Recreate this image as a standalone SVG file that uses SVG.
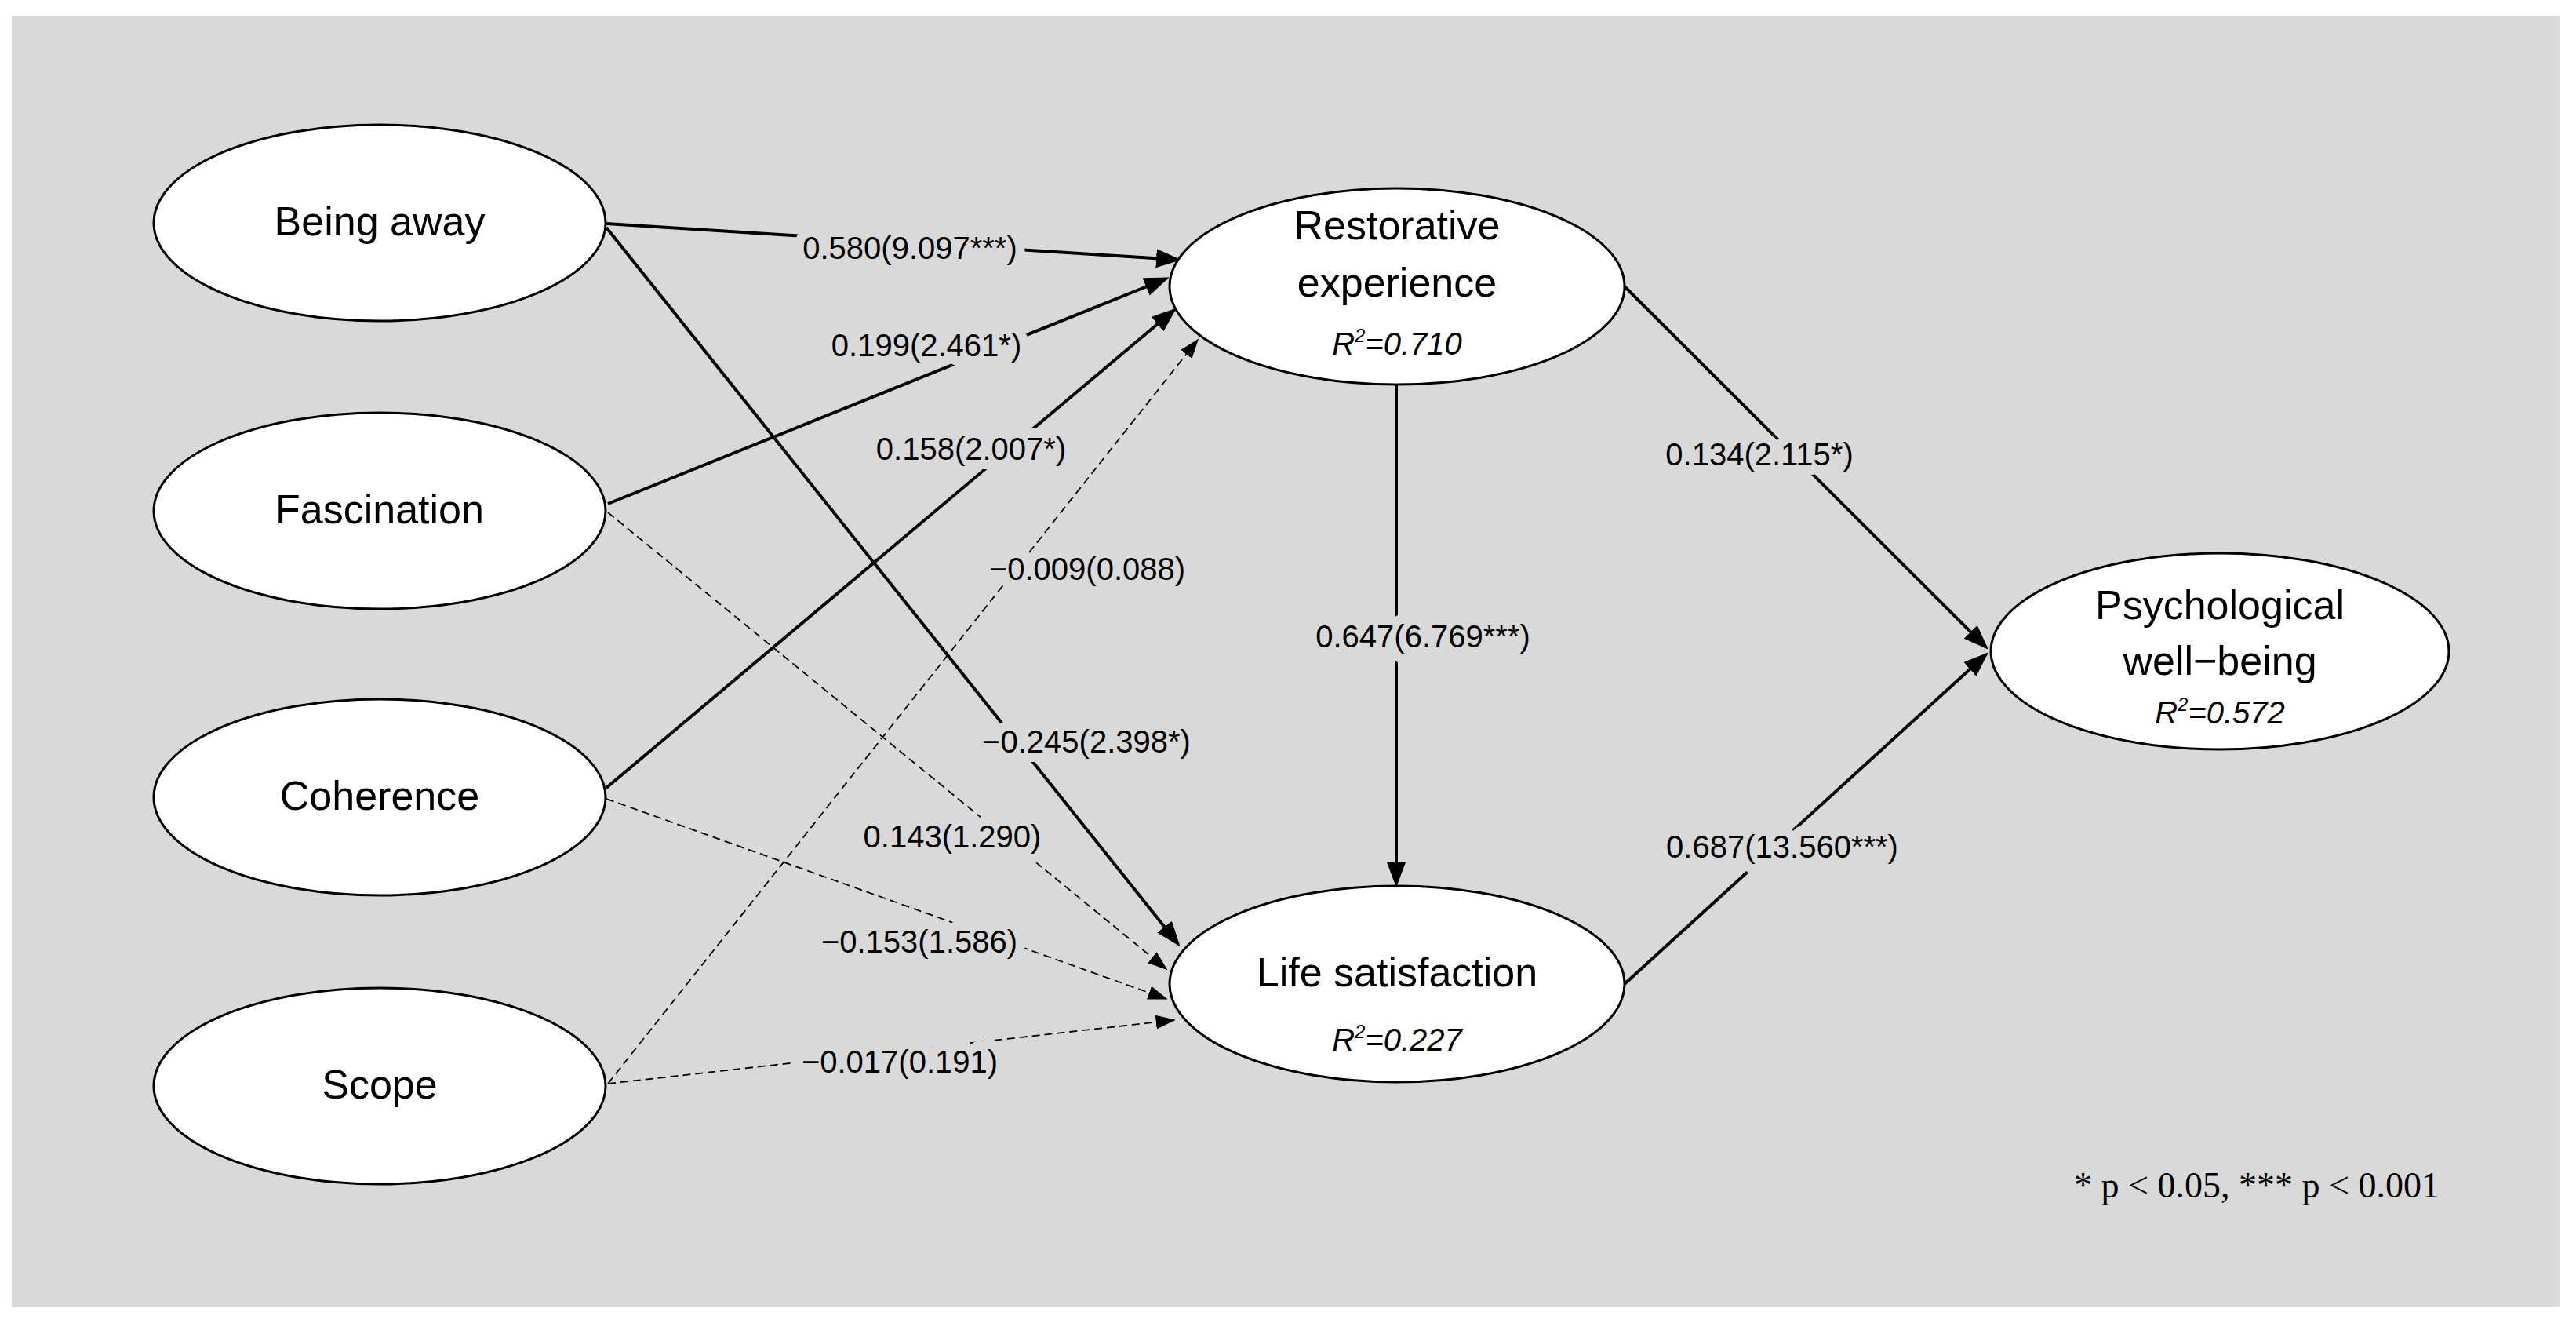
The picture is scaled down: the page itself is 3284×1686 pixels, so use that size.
<svg xmlns="http://www.w3.org/2000/svg" width="3284" height="1686" viewBox="0 0 3284 1686">
<style>
.node{fill:#fff;stroke:#000;stroke-width:3}
.nt{font-family:"Liberation Sans",Arial,sans-serif;font-size:52px;text-anchor:middle;fill:#000}
.r2{font-family:"Liberation Sans",Arial,sans-serif;font-size:40px;font-style:italic;text-anchor:middle;fill:#000}
.lb{font-family:"Liberation Sans",Arial,sans-serif;font-size:40px;text-anchor:middle;fill:#000;paint-order:stroke;stroke:#d9d9d9;stroke-width:24px;stroke-linejoin:round}
.s{stroke:#000;stroke-width:4;fill:none;marker-end:url(#ah)}
.d{stroke:#000;stroke-width:1.8;fill:none;stroke-dasharray:10 6;marker-end:url(#ahs)}
</style>
<defs>
<marker id="ah" markerWidth="8" markerHeight="8" refX="7" refY="4" orient="auto" markerUnits="strokeWidth"><path d="M0,1 L8,4 L0,7 z" fill="#000"/></marker>
<marker id="ahs" markerWidth="14" markerHeight="12" refX="13" refY="6" orient="auto" markerUnits="strokeWidth"><path d="M0,1 L14,6 L0,11 z" fill="#000"/></marker>
</defs>
<rect width="3284" height="1686" fill="#fff"/>
<rect x="15" y="20" width="3248" height="1645" fill="#d9d9d9"/>
<g id="connectors">
<line class="s" x1="773" y1="285" x2="1502" y2="331"/>
<line class="s" x1="773" y1="290" x2="1502" y2="1203"/>
<line class="s" x1="775" y1="642" x2="1487" y2="355"/>
<line class="s" x1="773" y1="1004" x2="1497" y2="395"/>
<line class="d" x1="775" y1="1381" x2="1527" y2="433"/>
<line class="d" x1="775" y1="653" x2="1487" y2="1235"/>
<line class="d" x1="773" y1="1018" x2="1487" y2="1273"/>
<line class="d" x1="775" y1="1381" x2="1497" y2="1300"/>
<line class="s" x1="2071" y1="365" x2="2532" y2="825"/>
<line class="s" x1="2071" y1="1254" x2="2532" y2="834"/>
<line class="s" stroke-width="3" x1="1780" y1="490" x2="1780" y2="1127"/>
<text class="lb" x="1160" y="330">0.580(9.097***)</text>
<text class="lb" x="1181" y="454">0.199(2.461*)</text>
<text class="lb" x="1238" y="586">0.158(2.007*)</text>
<text class="lb" x="1386" y="739">−0.009(0.088)</text>
<text class="lb" x="1385" y="959">−0.245(2.398*)</text>
<text class="lb" x="1214" y="1080">0.143(1.290)</text>
<text class="lb" x="1172" y="1214">−0.153(1.586)</text>
<text class="lb" x="1147" y="1367">−0.017(0.191)</text>
<text class="lb" x="2243" y="593">0.134(2.115*)</text>
<text class="lb" x="1814" y="825">0.647(6.769***)</text>
<text class="lb" x="2272" y="1093">0.687(13.560***)</text>
</g>
<g id="being-away"><ellipse class="node" cx="484" cy="284" rx="288" ry="125"/><text class="nt" x="484" y="300">Being away</text></g>
<g id="fascination"><ellipse class="node" cx="484" cy="651" rx="288" ry="125"/><text class="nt" x="484" y="667">Fascination</text></g>
<g id="coherence"><ellipse class="node" cx="484" cy="1016" rx="288" ry="125"/><text class="nt" x="484" y="1032">Coherence</text></g>
<g id="scope"><ellipse class="node" cx="484" cy="1384" rx="288" ry="125"/><text class="nt" x="484" y="1400">Scope</text></g>
<g id="restorative"><ellipse class="node" cx="1781" cy="365" rx="290" ry="125"/><text class="nt" x="1781" y="305">Restorative</text><text class="nt" x="1781" y="378">experience</text><text class="r2" x="1781" y="452">R<tspan font-size="24" dy="-16">2</tspan><tspan dy="16">=0.710</tspan></text></g>
<g id="life-satisfaction"><ellipse class="node" cx="1781" cy="1254" rx="290" ry="125"/><text class="nt" x="1781" y="1257">Life satisfaction</text><text class="r2" x="1781" y="1339">R<tspan font-size="24" dy="-16">2</tspan><tspan dy="16">=0.227</tspan></text></g>
<g id="psychological"><ellipse class="node" cx="2830" cy="830" rx="292" ry="125"/><text class="nt" x="2830" y="789">Psychological</text><text class="nt" x="2830" y="860">well−being</text><text class="r2" x="2830" y="922">R<tspan font-size="24" dy="-16">2</tspan><tspan dy="16">=0.572</tspan></text></g>
<text x="3110" y="1526" font-family="Liberation Serif,'Times New Roman',serif" font-size="46" text-anchor="end">* p &lt; 0.05, *** p &lt; 0.001</text>
</svg>
